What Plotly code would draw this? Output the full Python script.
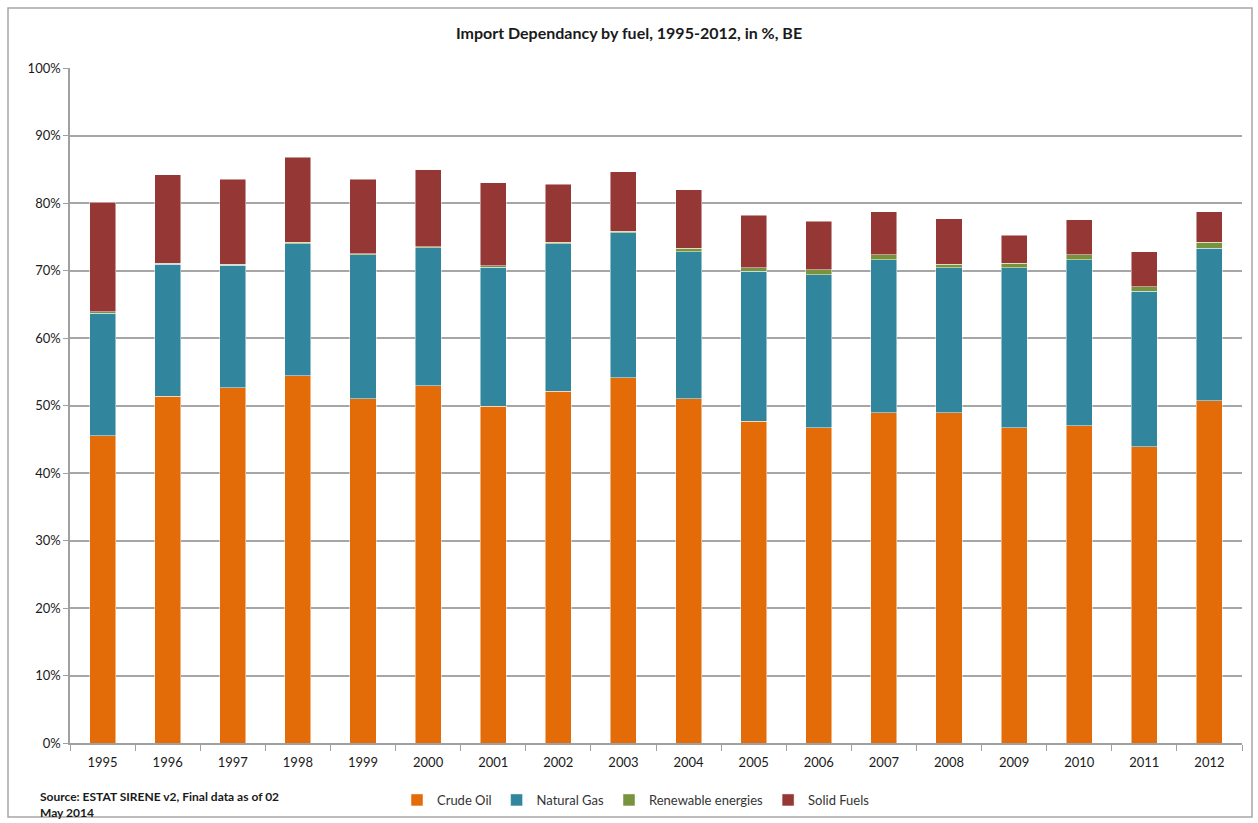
import plotly.graph_objects as go

years = [str(y) for y in range(1995, 2013)]
crude_oil = [45.5, 51.4, 52.6, 54.4, 51.0, 52.9, 49.9, 52.1, 54.1, 51.0, 47.7, 46.7, 48.9, 48.9, 46.7, 47.0, 43.9, 50.7]
natural_gas = [18.2, 19.5, 18.2, 19.6, 21.3, 20.5, 20.6, 21.9, 21.5, 21.8, 22.2, 22.7, 22.7, 21.5, 23.7, 24.6, 23.0, 22.6]
renewables = [0.2, 0.2, 0.1, 0.2, 0.2, 0.1, 0.2, 0.2, 0.2, 0.5, 0.5, 0.7, 0.7, 0.5, 0.7, 0.7, 0.7, 0.9]
solid_fuels = [16.2, 13.1, 12.6, 12.6, 11.0, 11.4, 12.3, 8.6, 8.8, 8.7, 7.8, 7.2, 6.4, 6.8, 4.1, 5.2, 5.2, 4.5]

series = [
    ("Crude Oil", crude_oil, "#E36C09"),
    ("Natural Gas", natural_gas, "#31859C"),
    ("Renewable energies", renewables, "#77933C"),
    ("Solid Fuels", solid_fuels, "#953735"),
]

fig = go.Figure()
for name, vals, col in series:
    fig.add_trace(go.Bar(
        x=years, y=[v / 100 for v in vals], name=name,
        marker=dict(color=col, line=dict(color="rgba(255,255,255,0.6)", width=0.8)),
    ))

W, H = 1258, 823
L, R, T, B = 70, 16, 68, 80
pw, ph = W - L - R, H - T - B

def px(x):
    return (x - L) / pw

def py(y):
    return (H - B - y) / ph

fig.update_layout(
    width=W, height=H,
    barmode="stack", bargap=0.6,
    margin=dict(l=L, r=R, t=T, b=B, autoexpand=False),
    paper_bgcolor="white", plot_bgcolor="white",
    font=dict(family="Lato, Open Sans, sans-serif", size=13, color="#1a1a1a"),
    title=dict(text="<b>Import Dependancy by fuel, 1995-2012, in %, BE</b>",
               x=0.5, xanchor="center", y=1 - 33 / H, yanchor="middle",
               font=dict(size=16, color="#1a1a1a")),
    showlegend=True,
    legend=dict(orientation="h", x=px(636), xanchor="center", y=py(800), yanchor="middle",
                font=dict(size=13, color="#333333"), traceorder="normal",
                itemwidth=30, bgcolor="rgba(0,0,0,0)"),
    xaxis=dict(type="category", showline=True, linecolor="#A0A0A0", linewidth=1.5,
               ticks="outside", tickson="boundaries", ticklen=6, tickcolor="#A0A0A0",
               showgrid=False, tickfont=dict(size=13), automargin=False,
               ticklabelstandoff=7),
    yaxis=dict(range=[0, 1], tickformat=".0%", dtick=0.1, showgrid=True,
               gridcolor="#A6A6A6", gridwidth=1.5, showline=True, linecolor="#A0A0A0",
               linewidth=1.5, ticks="outside", ticklen=5, tickcolor="#A0A0A0",
               tickfont=dict(size=13), zeroline=False, automargin=False),
    shapes=[dict(type="rect", xref="paper", yref="paper",
                 x0=px(8), x1=px(1252), y0=py(817), y1=py(8),
                 line=dict(color="#A6A6A6", width=1.5), layer="below")],
    annotations=[dict(text="<b>Source: ESTAT SIRENE v2, Final data as of 02<br>May 2014</b>",
                      xref="paper", yref="paper", x=px(38), y=py(787),
                      xanchor="left", yanchor="top", align="left", showarrow=False,
                      font=dict(size=12, color="#1a1a1a"))],
)

fig.write_html("out.html", config={"displayModeBar": False},
               post_script="document.body.style.margin='0px';document.body.style.overflow='hidden';")
